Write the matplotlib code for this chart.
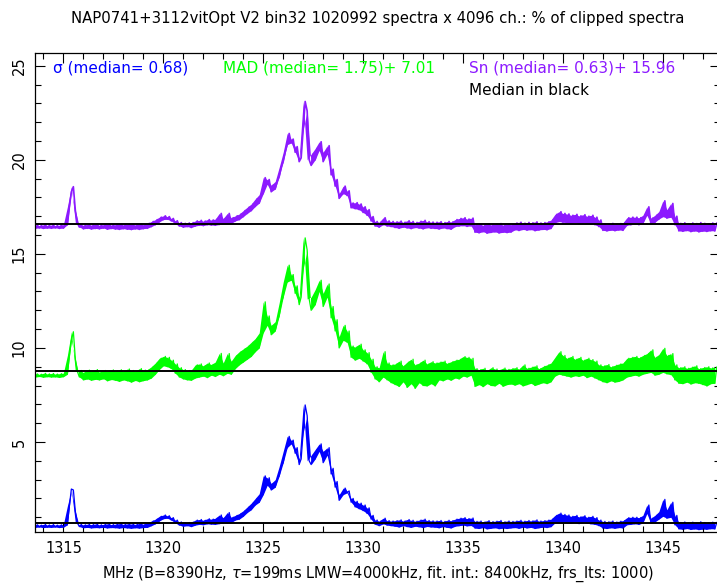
import matplotlib
matplotlib.use('Agg')
import matplotlib.pyplot as plt
import numpy as np
from matplotlib.ticker import MultipleLocator

# Frequency channels (MHz), one sample pair (low, high of the noise band) every 0.2 MHz
freq = np.linspace(1313.6, 1347.6, 171)

# sigma estimate (blue)
blue_lo = [0.46, 0.48, 0.45, 0.47, 0.46, 0.48, 0.45, 0.47, 0.60, 2.50,
           1.30, 0.50, 0.44, 0.46, 0.43, 0.45, 0.44, 0.46, 0.43, 0.45,
           0.44, 0.42, 0.45, 0.43, 0.41, 0.44, 0.42, 0.45, 0.46, 0.55,
           0.65, 0.80, 0.92, 0.95, 0.85, 0.70, 0.58, 0.52, 0.55, 0.50,
           0.58, 0.62, 0.60, 0.65, 0.63, 0.62, 0.66, 0.68, 0.70, 0.72,
           0.85, 0.90, 1.05, 1.25, 1.40, 1.65, 1.80, 2.20, 2.70, 2.45,
           2.60, 3.20, 3.90, 4.70, 4.90, 4.40, 3.80, 5.50, 6.40, 3.80,
           4.10, 4.50, 3.90, 4.30, 3.30, 2.60, 1.90, 2.20, 2.30, 1.80,
           1.55, 1.45, 1.35, 1.20, 0.90, 0.62, 0.55, 0.65, 0.58, 0.55,
           0.52, 0.48, 0.55, 0.50, 0.46, 0.52, 0.49, 0.45, 0.51, 0.48,
           0.47, 0.44, 0.50, 0.46, 0.43, 0.52, 0.55, 0.58, 0.54, 0.56,
           0.42, 0.40, 0.45, 0.38, 0.41, 0.44, 0.39, 0.42, 0.40, 0.43,
           0.45, 0.41, 0.47, 0.43, 0.46, 0.40, 0.44, 0.47, 0.45, 0.50,
           0.70, 0.75, 0.72, 0.70, 0.68, 0.73, 0.66, 0.70, 0.68, 0.65,
           0.62, 0.55, 0.42, 0.40, 0.44, 0.41, 0.45, 0.43, 0.60, 0.62,
           0.65, 0.62, 0.70, 1.20, 0.68, 0.75, 0.90, 1.05, 0.95, 1.00,
           0.60, 0.38, 0.36, 0.40, 0.35, 0.38, 0.34, 0.37, 0.36, 0.39,
           0.38]
blue_hi = [0.60, 0.58, 0.62, 0.59, 0.61, 0.58, 0.60, 0.62, 1.60, 2.45,
           0.70, 0.62, 0.60, 0.63, 0.61, 0.64, 0.60, 0.62, 0.65, 0.61,
           0.63, 0.66, 0.62, 0.65, 0.64, 0.62, 0.67, 0.63, 0.70, 0.80,
           0.90, 1.05, 1.12, 1.08, 0.98, 0.85, 0.75, 0.70, 0.72, 0.74,
           0.85, 0.88, 0.84, 0.92, 0.90, 0.95, 1.12, 0.98, 1.25, 1.00,
           1.10, 1.20, 1.35, 1.55, 1.75, 2.00, 2.25, 3.20, 3.10, 2.80,
           3.00, 3.70, 4.50, 5.30, 5.10, 4.70, 4.10, 6.97, 4.00, 4.30,
           4.60, 4.90, 4.50, 4.70, 3.60, 2.90, 2.20, 2.55, 2.40, 2.00,
           1.85, 1.75, 1.65, 1.50, 1.10, 0.85, 0.80, 0.95, 0.82, 0.80,
           0.82, 0.86, 0.80, 0.88, 0.84, 0.79, 0.85, 0.90, 0.83, 0.81,
           0.80, 0.83, 0.78, 0.84, 0.82, 0.90, 0.95, 0.98, 0.93, 0.96,
           0.78, 0.80, 0.75, 0.82, 0.77, 0.79, 0.83, 0.76, 0.80, 0.78,
           0.80, 0.84, 0.79, 0.83, 0.81, 0.86, 0.80, 0.82, 0.85, 0.90,
           1.10, 1.22, 1.15, 1.12, 1.05, 1.10, 1.02, 1.08, 1.00, 1.05,
           0.98, 0.85, 0.78, 0.76, 0.80, 0.75, 0.79, 0.82, 0.98, 1.00,
           1.00, 0.98, 1.10, 1.65, 0.95, 1.10, 1.30, 1.95, 1.40, 1.80,
           1.10, 0.72, 0.75, 0.70, 0.74, 0.71, 0.76, 0.72, 0.70, 0.74,
           0.72]

# MAD estimate + 7.01 (green)
green_lo = [8.45, 8.48, 8.44, 8.47, 8.45, 8.46, 8.43, 8.47, 8.60, 10.40,
            9.40, 8.45, 8.30, 8.35, 8.28, 8.33, 8.30, 8.36, 8.25, 8.32,
            8.28, 8.22, 8.30, 8.25, 8.18, 8.27, 8.20, 8.26, 8.30, 8.40,
            8.60, 8.85, 9.05, 9.00, 8.90, 8.65, 8.45, 8.35, 8.30, 8.28,
            8.40, 8.45, 8.50, 8.42, 8.55, 8.48, 8.60, 8.52, 8.65, 8.60,
            8.90, 9.10, 9.25, 9.40, 9.55, 9.80, 10.00, 10.80, 11.20, 10.70,
            10.90, 11.70, 12.70, 13.50, 13.60, 12.90, 12.30, 14.20, 15.20, 12.00,
            12.30, 13.00, 12.20, 12.70, 11.60, 10.90, 10.00, 10.40, 10.30, 9.50,
            9.35, 9.45, 9.30, 9.15, 8.70, 8.35, 8.20, 8.45, 8.30, 8.15,
            8.05, 7.95, 8.20, 7.90, 8.10, 7.85, 8.15, 8.00, 7.98, 8.10,
            7.98, 8.30, 8.25, 8.35, 8.28, 8.40, 8.35, 8.50, 8.45, 8.55,
            7.95, 8.05, 7.94, 8.10, 8.00, 7.98, 8.12, 7.96, 8.05, 8.08,
            8.02, 8.10, 7.98, 8.05, 8.12, 8.00, 8.08, 8.15, 8.10, 8.20,
            8.50, 8.60, 8.55, 8.50, 8.45, 8.52, 8.48, 8.55, 8.42, 8.50,
            8.40, 8.30, 8.20, 8.15, 8.25, 8.18, 8.22, 8.30, 8.45, 8.50,
            8.55, 8.50, 8.60, 8.65, 8.70, 8.55, 8.60, 8.70, 8.62, 8.58,
            8.30, 8.12, 8.10, 8.18, 8.08, 8.15, 8.12, 8.05, 7.98, 8.10,
            8.12]
green_hi = [8.62, 8.60, 8.65, 8.62, 8.64, 8.61, 8.63, 8.66, 9.60, 10.86,
            8.75, 8.80, 8.70, 8.82, 8.76, 8.85, 8.72, 8.80, 8.78, 8.83,
            8.78, 8.84, 8.75, 8.88, 8.80, 8.76, 8.90, 8.82, 8.85, 9.00,
            9.20, 9.45, 9.55, 9.50, 9.35, 9.15, 8.95, 8.85, 8.80, 8.82,
            9.10, 9.15, 9.05, 9.20, 9.12, 9.25, 9.71, 9.20, 9.70, 9.30,
            9.60, 9.80, 9.95, 10.10, 10.30, 10.50, 10.80, 12.45, 11.70, 11.20,
            11.40, 12.40, 13.50, 14.40, 13.90, 13.30, 12.70, 15.85, 12.60, 12.70,
            13.10, 13.60, 12.90, 13.40, 12.20, 11.50, 10.60, 11.20, 10.90, 10.10,
            10.05, 10.20, 9.90, 9.75, 9.40, 9.00, 8.95, 9.80, 9.20, 9.10,
            9.15, 9.30, 9.05, 9.25, 9.40, 9.10, 9.20, 9.35, 9.15, 9.27,
            9.20, 9.25, 9.30, 9.18, 9.27, 9.35, 9.40, 9.54, 9.50, 9.45,
            8.90, 8.85, 8.92, 8.80, 8.95, 8.88, 8.82, 8.93, 8.86, 8.90,
            8.95, 8.88, 9.10, 8.92, 8.98, 9.05, 8.90, 9.02, 9.10, 9.20,
            9.50, 9.80, 9.60, 9.45, 9.55, 9.40, 9.50, 9.35, 9.45, 9.38,
            9.30, 9.10, 9.05, 9.12, 9.00, 9.08, 9.15, 9.20, 9.45, 9.50,
            9.55, 9.48, 9.60, 9.70, 9.90, 9.50, 9.65, 9.98, 9.60, 9.70,
            9.10, 8.95, 9.00, 8.92, 8.98, 9.05, 8.90, 8.96, 9.00, 8.94,
            8.98]

# Sn estimate + 15.96 (purple)
purple_lo = [16.36, 16.38, 16.35, 16.37, 16.36, 16.38, 16.35, 16.37, 16.55, 18.30,
             17.30, 16.42, 16.33, 16.36, 16.32, 16.35, 16.33, 16.37, 16.31, 16.35,
             16.32, 16.30, 16.34, 16.31, 16.29, 16.33, 16.30, 16.34, 16.36, 16.45,
             16.55, 16.70, 16.82, 16.84, 16.75, 16.60, 16.48, 16.42, 16.45, 16.40,
             16.48, 16.52, 16.50, 16.55, 16.53, 16.52, 16.56, 16.58, 16.60, 16.62,
             16.75, 16.82, 16.98, 17.15, 17.30, 17.52, 17.70, 18.20, 18.70, 18.30,
             18.45, 19.10, 19.90, 20.80, 20.90, 20.40, 19.90, 21.60, 22.60, 19.70,
             20.00, 20.50, 19.90, 20.30, 19.20, 18.60, 17.95, 18.20, 18.10, 17.45,
             17.40, 17.35, 17.20, 17.05, 16.75, 16.48, 16.42, 16.55, 16.48, 16.45,
             16.40, 16.36, 16.42, 16.38, 16.34, 16.40, 16.37, 16.33, 16.39, 16.36,
             16.35, 16.32, 16.38, 16.34, 16.31, 16.45, 16.48, 16.50, 16.46, 16.49,
             16.15, 16.12, 16.18, 16.10, 16.14, 16.17, 16.11, 16.15, 16.13, 16.16,
             16.28, 16.24, 16.30, 16.26, 16.29, 16.23, 16.27, 16.30, 16.28, 16.35,
             16.65, 16.72, 16.68, 16.66, 16.62, 16.67, 16.60, 16.64, 16.62, 16.58,
             16.55, 16.45, 16.25, 16.22, 16.26, 16.23, 16.27, 16.25, 16.52, 16.55,
             16.58, 16.55, 16.62, 17.05, 16.60, 16.68, 16.85, 16.98, 16.90, 16.95,
             16.55, 16.22, 16.20, 16.24, 16.18, 16.22, 16.17, 16.21, 16.19, 16.23,
             16.22]
purple_hi = [16.52, 16.50, 16.54, 16.51, 16.53, 16.50, 16.52, 16.55, 17.50, 18.57,
             16.65, 16.55, 16.52, 16.56, 16.53, 16.57, 16.52, 16.55, 16.58, 16.53,
             16.55, 16.58, 16.54, 16.57, 16.56, 16.54, 16.59, 16.55, 16.62, 16.72,
             16.82, 16.95, 17.02, 16.98, 16.88, 16.76, 16.66, 16.62, 16.64, 16.66,
             16.75, 16.78, 16.74, 16.82, 16.80, 16.85, 17.15, 16.88, 17.15, 16.92,
             17.02, 17.12, 17.30, 17.48, 17.65, 17.92, 18.15, 19.05, 18.95, 18.65,
             18.85, 19.60, 20.40, 21.40, 21.10, 20.70, 20.10, 23.10, 20.00, 20.30,
             20.60, 20.96, 20.40, 20.75, 19.50, 18.95, 18.20, 18.60, 18.35, 17.70,
             17.72, 17.65, 17.50, 17.35, 16.98, 16.72, 16.68, 16.92, 16.75, 16.72,
             16.70, 16.74, 16.68, 16.76, 16.72, 16.67, 16.73, 16.78, 16.71, 16.69,
             16.68, 16.71, 16.66, 16.72, 16.70, 16.82, 16.88, 16.92, 16.85, 16.90,
             16.55, 16.58, 16.52, 16.60, 16.54, 16.57, 16.61, 16.53, 16.58, 16.55,
             16.64, 16.68, 16.63, 16.67, 16.65, 16.70, 16.64, 16.66, 16.70, 16.80,
             17.10, 17.24, 17.15, 17.12, 17.05, 17.10, 17.02, 17.08, 17.00, 17.05,
             16.95, 16.80, 16.60, 16.58, 16.62, 16.57, 16.61, 16.65, 16.92, 16.95,
             16.95, 16.92, 17.05, 17.50, 16.90, 17.05, 17.25, 17.82, 17.35, 17.68,
             17.00, 16.62, 16.65, 16.60, 16.64, 16.61, 16.66, 16.62, 16.60, 16.64,
             16.63]

# medians (black lines) and offsets
sigma_med = 0.68
mad_med, mad_off = 1.75, 7.01
sn_med, sn_off = 0.63, 15.96

title = 'NAP0741+3112vitOpt V2 bin32 1020992 spectra x 4096 ch.: % of clipped spectra'
xlabel = r'MHz (B=8390Hz, $\tau$=199ms LMW=4000kHz, fit. int.: 8400kHz, frs_lts: 1000)'

matplotlib.rcParams['font.family'] = 'DejaVu Sans'

fig = plt.figure(figsize=(7.17, 5.84), dpi=100)
ax = fig.add_axes([35/717., (584-532.3)/584., (720-35)/717., (532.3-53.3)/584.])


def zigzag(lo, hi):
    # interleave the low and high samples of the noise band
    xs = np.column_stack([freq, freq + 0.1]).ravel()
    ys = np.column_stack([lo, hi]).ravel()
    return xs, ys


for lo, hi, col, lw in [(blue_lo, blue_hi, '#0000ff', 0.9),
                        (green_lo, green_hi, '#00ff00', 0.9),
                        (purple_lo, purple_hi, '#8c1aff', 1.2)]:
    xs, ys = zigzag(lo, hi)
    ax.fill_between(freq, lo, hi, color=col, lw=0)
    ax.plot(xs, ys, color=col, lw=lw)

for m in [sigma_med, mad_med + mad_off, sn_med + sn_off]:
    ax.axhline(m, color='black', lw=1.4)

ax.set_xlim(1313.58, 1347.86)
ax.set_ylim(0.2, 25.66)

ax.xaxis.set_major_locator(MultipleLocator(5))
ax.xaxis.set_minor_locator(MultipleLocator(1))
ax.yaxis.set_major_locator(MultipleLocator(5))
ax.yaxis.set_minor_locator(MultipleLocator(1))
ax.tick_params(which='both', direction='in', top=True, right=True, width=0.8)
ax.tick_params(which='major', length=7, labelsize=10.5, pad=6)
ax.tick_params(which='minor', length=4)
for lab in ax.get_yticklabels():
    lab.set_rotation(90)
    lab.set_va('center')
for s in ax.spines.values():
    s.set_linewidth(0.9)

fs = 11
ax.text(1314.5, 24.9, 'σ (median= 0.68)', color='#0000ff', fontsize=fs, va='center')
ax.text(1323.0, 24.9, 'MAD (median= 1.75)+ 7.01', color='#00ff00', fontsize=fs, va='center')
ax.text(1335.3, 24.9, 'Sn (median= 0.63)+ 15.96', color='#8c1aff', fontsize=fs, va='center')
ax.text(1335.3, 23.7, 'Median in black', color='black', fontsize=fs, va='center')

fig.text(0.527, 0.969, title, ha='center', va='center', fontsize=10.7)
fig.text(0.527, 1 - 574/584., xlabel, ha='center', va='center', fontsize=10.5)

plt.savefig('out.png', dpi=100)
